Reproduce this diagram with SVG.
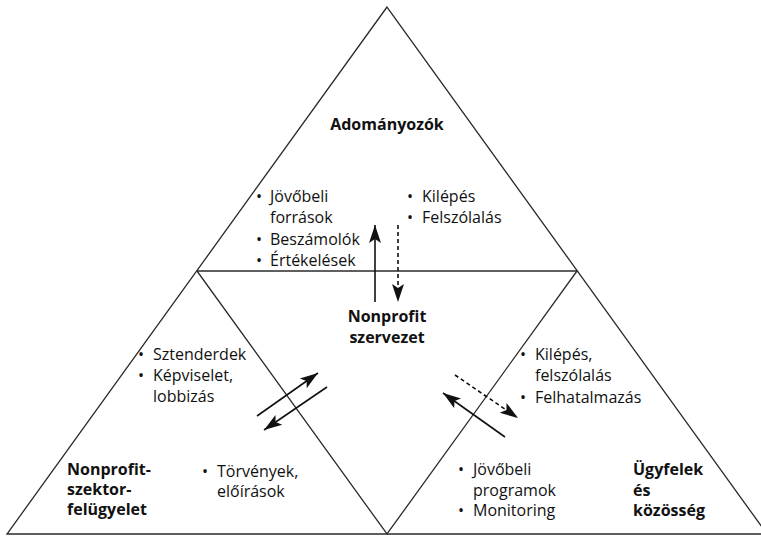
<svg xmlns="http://www.w3.org/2000/svg" width="761" height="536" viewBox="0 0 761 536">
<style>
text{font-family:"Open Sans","Noto Sans","Liberation Sans",sans-serif;font-size:16px;fill:#111}
.b{font-weight:bold}
.edge{fill:none;stroke:#2a2a2a;stroke-width:1.3}
.arr{fill:none;stroke:#111;stroke-width:1.6;marker-end:url(#ah)}
.dash{stroke-dasharray:4 3}
</style>
<defs>
<marker id="ah" markerUnits="userSpaceOnUse" markerWidth="22" markerHeight="16" viewBox="-20 -8 22 16" refX="0" refY="0" orient="auto">
<path d="M0,0 L-18,-6 L-14,0 L-18,6 Z" fill="#111"/>
</marker>
</defs>
<g id="frame">
<path class="edge" d="M387,7 L7,534 L767,534 Z"/>
<path class="edge" d="M197,271 L577,271"/>
<path class="edge" d="M197,271 L387,534 L577,271"/>
</g>
<g id="connectors">
<line class="arr" x1="375" y1="302" x2="375" y2="225"/>
<line class="arr dash" x1="398" y1="225" x2="398" y2="302"/>
<line class="arr" x1="257" y1="416" x2="318" y2="373"/>
<line class="arr" x1="327" y1="387" x2="264" y2="430"/>
<line class="arr dash" x1="455" y1="375" x2="518" y2="418"/>
<line class="arr" x1="505" y1="437" x2="443" y2="393"/>
</g>
<g id="adomanyozok">
<text class="b" x="387" y="130" text-anchor="middle">Adományozók</text>
<text x="256" y="202">•</text><text x="270" y="202">Jövőbeli</text>
<text x="270" y="223">források</text>
<text x="256" y="245">•</text><text x="270" y="245">Beszámolók</text>
<text x="256" y="266">•</text><text x="270" y="266">Értékelések</text>
<text x="407" y="202">•</text><text x="422" y="202">Kilépés</text>
<text x="407" y="223">•</text><text x="422" y="223">Felszólalás</text>
</g>
<g id="nonprofit">
<text class="b" x="387" y="322" text-anchor="middle">Nonprofit</text>
<text class="b" x="387" y="343" text-anchor="middle">szervezet</text>
</g>
<g id="felugyelet">
<text x="138" y="360">•</text><text x="153" y="360">Sztenderdek</text>
<text x="138" y="381">•</text><text x="153" y="381">Képviselet,</text>
<text x="153" y="402">lobbizás</text>
<text x="202" y="477">•</text><text x="217" y="477">Törvények,</text>
<text x="217" y="497">előírások</text>
<text class="b" x="67" y="475">Nonprofit-</text>
<text class="b" x="67" y="495">szektor-</text>
<text class="b" x="67" y="515">felügyelet</text>
</g>
<g id="ugyfelek">
<text x="520" y="360">•</text><text x="535" y="360">Kilépés,</text>
<text x="535" y="381">felszólalás</text>
<text x="520" y="403">•</text><text x="535" y="403">Felhatalmazás</text>
<text x="458" y="475">•</text><text x="473" y="475">Jövőbeli</text>
<text x="473" y="496">programok</text>
<text x="458" y="516">•</text><text x="473" y="516">Monitoring</text>
<text class="b" x="633" y="475">Ügyfelek</text>
<text class="b" x="633" y="496">és</text>
<text class="b" x="633" y="516">közösség</text>
</g>
</svg>
